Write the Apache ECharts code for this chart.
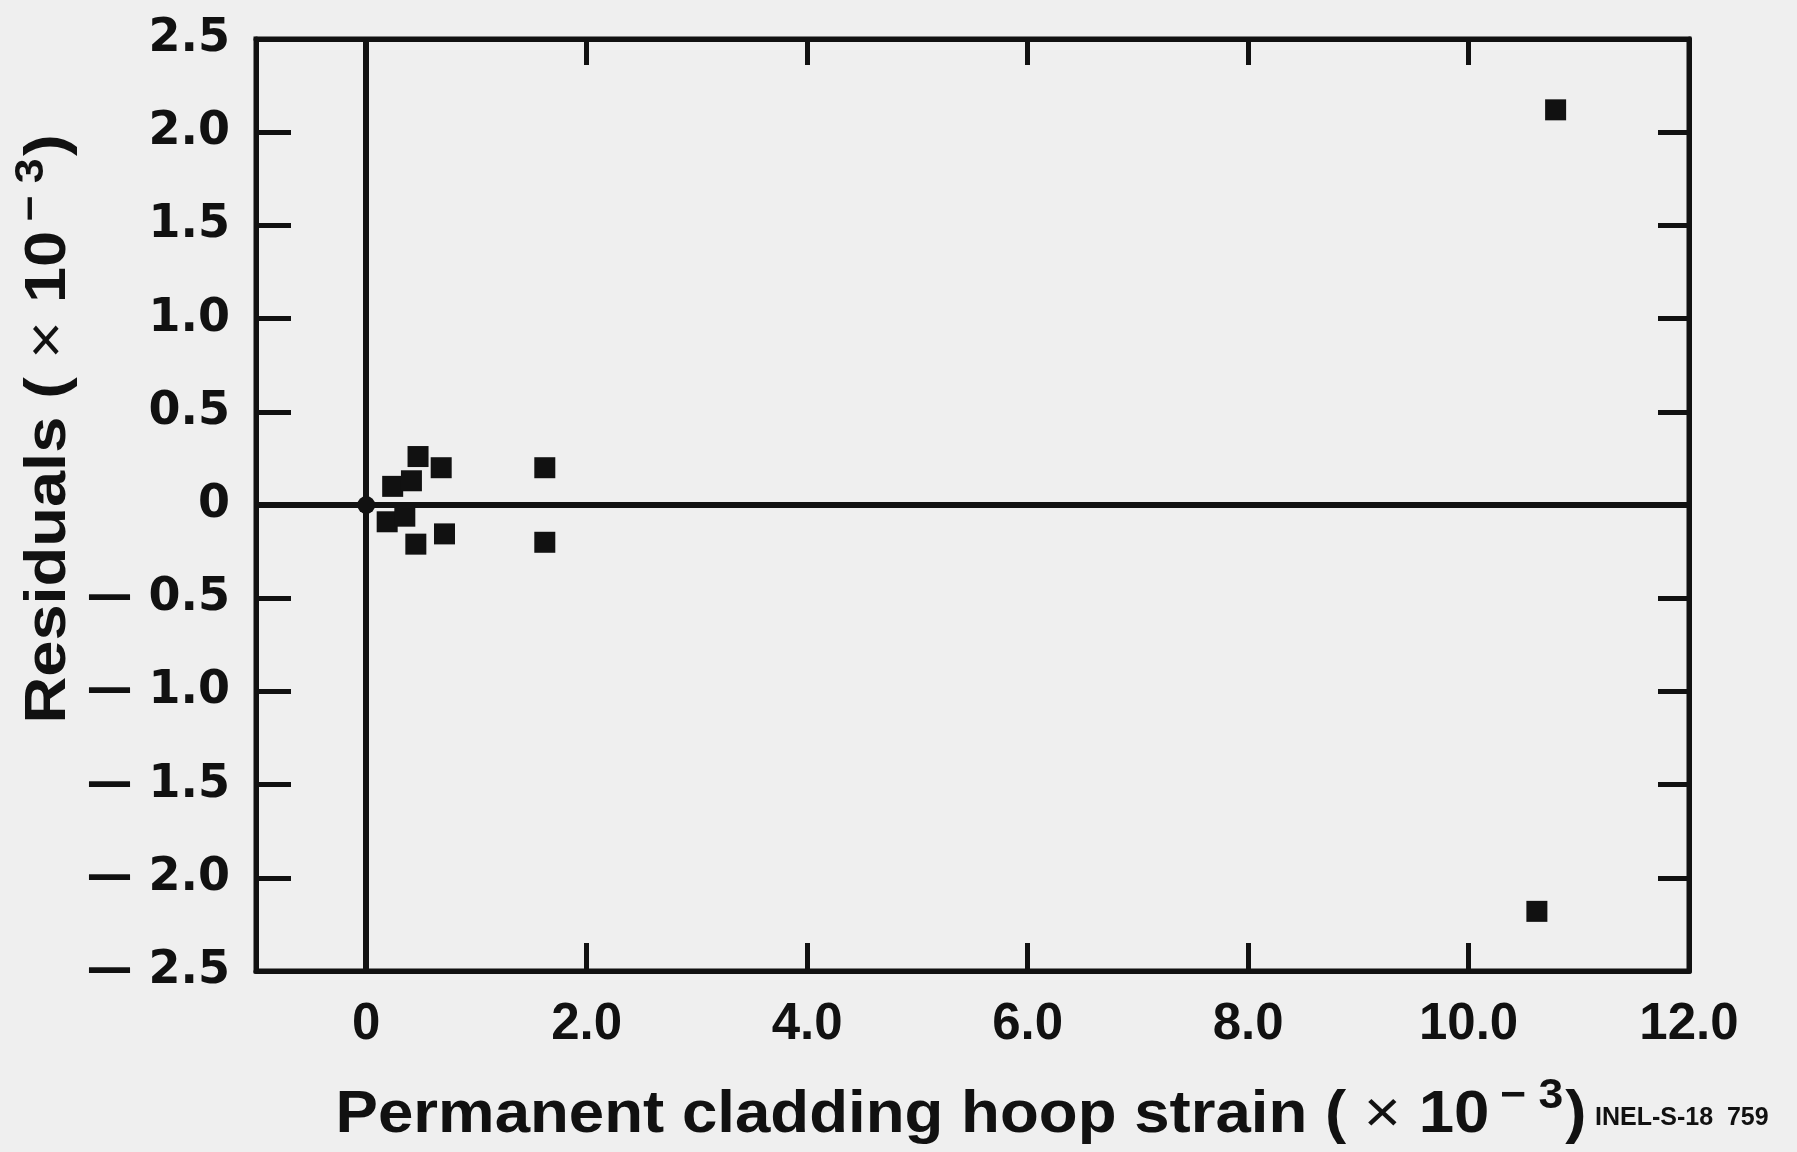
<!DOCTYPE html>
<html>
<head>
<meta charset="utf-8">
<script src="https://cdn.jsdelivr.net/npm/echarts@6/dist/echarts.min.js"></script>
<style>
html,body{margin:0;padding:0;background:#efefef;}
#chart{width:1797px;height:1152px;}
</style>
</head>
<body>
<div id="chart"></div>
<script>
// Data (units x 10^-3)
var strainX   = [0.24, 0.41, 0.47, 0.68, 0.19, 0.35, 0.45, 0.71, 1.62, 1.62, 10.79, 10.62];
var residualY = [0.10, 0.13, 0.26, 0.20, -0.09, -0.06, -0.21, -0.155, 0.20, -0.20, 2.12, -2.18];
var originPoint = [[0, 0]];
var xTickValues = [0, 2, 4, 6, 8, 10, 12];
var xTopTickValues = [2, 4, 6, 8, 10];
var xTickLabels = ['0', '2.0', '4.0', '6.0', '8.0', '10.0', '12.0'];

var points = strainX.map(function (x, i) { return [x, residualY[i]]; });

var FONT = '"Liberation Sans", Arial, Helvetica, sans-serif';
var WIDE = '"DejaVu Sans", "Liberation Sans", sans-serif';
var INK = '#111111';

function yLabel(v) {
  var r = Math.round(v * 10) / 10;
  if (Math.abs(r) < 1e-9) return '0';
  if (r < 0) return '\u2014 ' + Math.abs(r).toFixed(1);
  return r.toFixed(1);
}

var chart = echarts.init(document.getElementById('chart'), null, {renderer: 'canvas'});
var option = {
  backgroundColor: '#efefef',
  animation: false,
  grid: {left: 256, right: 108, top: 39, bottom: 181, show: true, borderColor: INK, borderWidth: 5, backgroundColor: 'transparent'},
  xAxis: [{
    type: 'value', min: -1, max: 12, position: 'bottom',
    axisLine: {show: true, onZero: false, lineStyle: {color: INK, width: 5}},
    axisTick: {show: true, inside: true, length: 28, customValues: xTickValues, lineStyle: {color: INK, width: 5}},
    axisLabel: {
      show: true, customValues: xTickValues, margin: 28, showMaxLabel: true, showMinLabel: true,
      color: INK, fontFamily: FONT, fontWeight: 'bold', fontSize: 51,
      formatter: function (v) { var i = xTickValues.indexOf(v); return i >= 0 ? xTickLabels[i] : ''; }
    },
    splitLine: {show: false}
  }, {
    type: 'value', min: -1, max: 12, position: 'top',
    axisLine: {show: true, onZero: false, lineStyle: {color: INK, width: 5}},
    axisTick: {show: true, inside: true, length: 26, customValues: xTopTickValues, lineStyle: {color: INK, width: 5}},
    axisLabel: {show: false},
    splitLine: {show: false}
  }],
  yAxis: [{
    type: 'value', min: -2.5, max: 2.5, interval: 0.5, position: 'left',
    axisLine: {show: true, onZero: false, lineStyle: {color: INK, width: 5}},
    axisTick: {show: true, inside: true, length: 35, lineStyle: {color: INK, width: 5}},
    axisLabel: {
      show: true, margin: 26, color: INK, fontFamily: WIDE, fontWeight: 'bold', fontSize: 46,
      formatter: yLabel
    },
    splitLine: {show: false}
  }, {
    type: 'value', min: -2.5, max: 2.5, interval: 0.5, position: 'right',
    axisLine: {show: true, onZero: false, lineStyle: {color: INK, width: 5}},
    axisTick: {show: true, inside: true, length: 31, lineStyle: {color: INK, width: 5}},
    axisLabel: {show: false},
    splitLine: {show: false}
  }],
  series: [{
    type: 'scatter',
    xAxisIndex: 0, yAxisIndex: 0,
    symbol: 'rect', symbolSize: 21,
    itemStyle: {color: INK, opacity: 1},
    data: points,
    markLine: {
      silent: true, symbol: ['none', 'none'], animation: false,
      label: {show: false},
      lineStyle: {color: INK, width: 6, type: 'solid', opacity: 1},
      emphasis: {disabled: true},
      data: [{xAxis: 0}, {yAxis: 0}]
    },
    z: 3
  }, {
    type: 'scatter',
    xAxisIndex: 0, yAxisIndex: 0,
    symbol: 'circle', symbolSize: 18,
    itemStyle: {color: INK, opacity: 1},
    data: originPoint,
    z: 4
  }],
  graphic: [{
    type: 'text', x: 45, y: 429, rotation: Math.PI / 2, scaleX: 1.12,
    style: {
      text: '{a|Residuals ( }{m|\u00d7}{a| 10}{s|\u2212 3}{a|)}',
      align: 'center', verticalAlign: 'middle',
      fill: INK,
      rich: {
        a: {fontFamily: FONT, fontWeight: 'bold', fontSize: 58, fill: INK, verticalAlign: 'bottom'},
        m: {fontFamily: FONT, fontWeight: 'normal', fontSize: 58, fill: INK, verticalAlign: 'bottom'},
        s: {fontFamily: FONT, fontWeight: 'bold', fontSize: 40, fill: INK, verticalAlign: 'top', padding: [0, 2, 26, 8]}
      }
    }
  }, {
    type: 'text', x: 961, y: 1110, scaleX: 1.06,
    style: {
      text: '{a|Permanent cladding hoop strain ( }{m|\u00d7}{a| 10}{s|\u2212 3}{a|)}',
      align: 'center', verticalAlign: 'middle',
      fill: INK,
      rich: {
        a: {fontFamily: FONT, fontWeight: 'bold', fontSize: 60, fill: INK, verticalAlign: 'bottom'},
        m: {fontFamily: FONT, fontWeight: 'normal', fontSize: 60, fill: INK, verticalAlign: 'bottom'},
        s: {fontFamily: FONT, fontWeight: 'bold', fontSize: 42, fill: INK, verticalAlign: 'top', padding: [0, 2, 28, 10]}
      }
    }
  }, {
    type: 'text', x: 1595, y: 1118,
    style: {
      text: 'INEL-S-18  759',
      align: 'left', verticalAlign: 'middle',
      fill: INK, fontFamily: FONT, fontWeight: 'bold', fontSize: 25
    }
  }]
};
chart.setOption(option);
</script>
</body>
</html>
